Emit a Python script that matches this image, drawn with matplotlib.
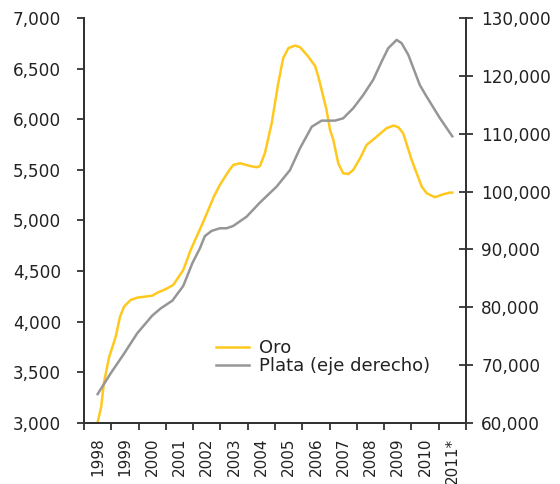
import matplotlib.pyplot as plt
from matplotlib.ticker import FuncFormatter, FixedLocator

plt.rcParams['font.family'] = ['DejaVu Sans']

# etiquetas del eje x (categorias anuales)
anios = ['1998', '1999', '2000', '2001', '2002', '2003', '2004',
         '2005', '2006', '2007', '2008', '2009', '2010', '2011*']

# Oro (eje izquierdo)
oro_x = [1998.0, 1998.13, 1998.23, 1998.42, 1998.66, 1998.82, 1998.97, 1999.21,
         1999.45, 2000.0, 2000.19, 2000.49, 2000.77, 2001.14, 2001.41, 2001.71,
         2001.9, 2002.26, 2002.48, 2002.79, 2002.97, 2003.22, 2003.58, 2003.83,
         2003.95, 2004.13, 2004.38, 2004.62, 2004.8, 2004.99, 2005.23, 2005.42,
         2005.72, 2005.97, 2006.09, 2006.27, 2006.39, 2006.52, 2006.64, 2006.82,
         2007.0, 2007.19, 2007.37, 2007.62, 2007.86, 2008.16, 2008.59, 2008.84,
         2009.02, 2009.2, 2009.51, 2009.88, 2010.06, 2010.36, 2010.67, 2010.91,
         2011.0]
oro = [3010, 3160, 3395, 3650, 3850, 4050, 4150, 4215,
       4238, 4257, 4287, 4321, 4363, 4511, 4709, 4889,
       5005, 5235, 5351, 5482, 5548, 5565, 5538, 5525,
       5538, 5664, 5960, 6355, 6602, 6701, 6727, 6711,
       6618, 6526, 6420, 6223, 6092, 5894, 5795, 5565,
       5466, 5459, 5499, 5614, 5746, 5812, 5911, 5937,
       5921, 5861, 5598, 5334, 5269, 5229, 5259, 5275,
       5275]

# Plata (eje derecho)
plata_x = [1998.0, 1998.48, 1998.97, 1999.45, 2000.0, 2000.31, 2000.74, 2001.14,
           2001.47, 2001.75, 2001.93, 2002.18, 2002.48, 2002.73, 2002.97, 2003.46,
           2003.95, 2004.56, 2005.05, 2005.42, 2005.85, 2006.21, 2006.70, 2007.0,
           2007.37, 2007.74, 2008.1, 2008.41, 2008.65, 2008.96, 2009.14, 2009.39,
           2009.81, 2010.06, 2010.55, 2011.0]
plata = [65000, 68600, 72000, 75500, 78550, 79800, 81150, 83700,
         87600, 90200, 92300, 93200, 93650, 93650, 94050, 95650,
         98100, 100850, 103700, 107500, 111200, 112250, 112250, 112650,
         114400, 116700, 119300, 122450, 124750, 126200, 125650, 123600,
         118400, 116400, 112650, 109550]

oro_color = '#FFC81E'
plata_color = '#969696'
txt = '#222222'

fig = plt.figure(figsize=(5.6, 4.84), dpi=100)
ax = fig.add_axes([0.15, 0.126, 0.682, 0.837])
ax2 = ax.twinx()

l1, = ax.plot(oro_x, oro, color=oro_color, lw=1.8, label='Oro')
l2, = ax2.plot(plata_x, plata, color=plata_color, lw=1.8, label='Plata (eje derecho)')

ax.set_xlim(1997.5, 2011.5)
ax.set_ylim(3000, 7000)
ax2.set_ylim(60000, 130000)
ax.set_yticks(range(3000, 7001, 500))
ax2.set_yticks(range(60000, 130001, 10000))

# ticks entre categorias, etiquetas al centro
ax.xaxis.set_major_locator(FixedLocator([1997.5 + i for i in range(15)]))
ax.xaxis.set_minor_locator(FixedLocator([1998 + i for i in range(14)]))
ax.set_xticklabels([], minor=False)
ax.set_xticklabels(anios, minor=True, rotation=90)
ax.tick_params(axis='x', which='minor', length=0, pad=10.5, labelsize=11, labelcolor=txt)
ax.tick_params(axis='x', which='major', direction='out', length=5, width=1.3, color='#333333')

fmt = FuncFormatter(lambda v, p: f'{int(v):,}')
ax.yaxis.set_major_formatter(fmt)
ax2.yaxis.set_major_formatter(fmt)
ax.tick_params(axis='y', direction='out', length=5, width=1.3, color='#333333',
               labelsize=12.2, labelcolor=txt, pad=11.5)
ax2.tick_params(axis='y', direction='inout', length=10, width=1.3, color='#333333',
                labelsize=12.2, labelcolor=txt, pad=6)

for a in (ax, ax2):
    a.spines['top'].set_visible(False)
    for s in ('left', 'right', 'bottom'):
        a.spines[s].set_color('#333333')
        a.spines[s].set_linewidth(1.4)

fig.legend(handles=[l1, l2], loc='upper left', bbox_to_anchor=(0.386, 0.299),
           frameon=False, fontsize=13, handlelength=1.8, handletextpad=0.55,
           labelspacing=0.0, borderpad=0, borderaxespad=0, labelcolor=txt)

fig.savefig('out.png', dpi=100)
